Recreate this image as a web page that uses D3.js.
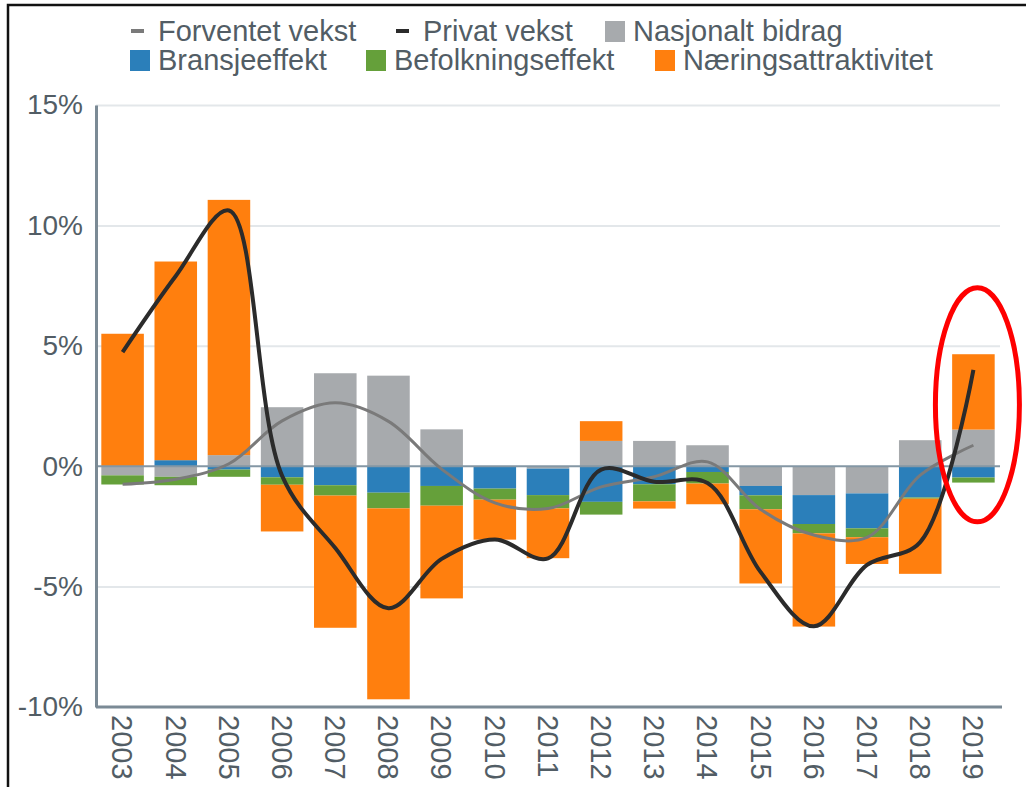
<!DOCTYPE html>
<html>
<head>
<meta charset="utf-8">
<script src="https://cdn.jsdelivr.net/npm/d3@7"></script>
<style>
  html, body { margin: 0; padding: 0; background: #fff; }
  svg { display: block; font-family: "Liberation Sans", Arial, sans-serif; }
</style>
</head>
<body>
<svg width="1026" height="787"></svg>
<script>
// values, in percent
const years = ['2003', '2004', '2005', '2006', '2007', '2008', '2009', '2010', '2011',
  '2012', '2013', '2014', '2015', '2016', '2017', '2018', '2019'];
const nasjonaltBidrag = [-0.38, -0.44, 0.46, 2.45, 3.86, 3.76, 1.53, 0, -0.1,
  1.05, 1.05, 0.87, -0.82, -1.2, -1.13, 1.08, 1.52];
const bransjeeffekt = [0, 0.25, -0.14, -0.46, -0.79, -1.1, -0.82, -0.93, -1.1,
  -1.48, -0.75, -0.24, -0.39, -1.2, -1.45, -1.3, -0.47];
const befolkningseffekt = [-0.38, -0.35, -0.3, -0.31, -0.43, -0.65, -0.82, -0.46, -0.55,
  -0.53, -0.71, -0.48, -0.58, -0.39, -0.37, -0.05, -0.21];
const naeringsattraktivitet = [5.5, 8.25, 10.6, -1.94, -5.49, -7.93, -3.85, -1.66, -2.07,
  0.82, -0.3, -0.86, -3.08, -3.87, -1.11, -3.12, 3.13];
const privatVekst = [4.74, 7.9, 10.62, -0.4, -3.4, -5.9, -3.85, -3.04, -3.83,
  -0.14, -0.65, -0.7, -4.4, -6.65, -4.1, -3.15, 4.0];
const forventetVekst = [-0.75, -0.54, 0.1, 1.88, 2.63, 1.86, -0.12, -1.52, -1.76,
  -0.86, -0.44, 0.18, -1.8, -2.86, -2.96, -0.37, 0.87];
const yTicks = [-10, -5, 0, 5, 10, 15];

const seriesKeys = ['nasjonalt', 'bransje', 'befolkning', 'naering'];
const colors = {
  nasjonalt: '#a7aaad',
  bransje: '#2b7fba',
  befolkning: '#65a03a',
  naering: '#ff7f0e',
};
const textColor = '#525d65';

const rows = years.map((yr, i) => ({
  year: yr,
  nasjonalt: nasjonaltBidrag[i],
  bransje: bransjeeffekt[i],
  befolkning: befolkningseffekt[i],
  naering: naeringsattraktivitet[i],
}));

const svg = d3.select('svg');

// plot area
const plotLeft = 96, plotRight = 1000, plotTop = 105, plotBottom = 707;

const x = d3.scaleBand()
  .domain(years)
  .range([plotLeft, plotRight])
  .paddingInner(0.2)
  .paddingOuter(0.1);
const bw = x.bandwidth();

const y = d3.scaleLinear()
  .domain([-10, 15])
  .range([plotBottom, plotTop]);

// gridlines
const grid = svg.append('g')
  .attr('transform', `translate(${plotLeft},0)`)
  .call(d3.axisLeft(y).tickValues(yTicks.filter(t => t !== 0 && t !== -10))
    .tickSize(-(plotRight - plotLeft)).tickFormat(''));
grid.select('.domain').remove();
grid.selectAll('line').attr('stroke', '#e3e7ea').attr('stroke-width', 2);

// stacked bars
const stacked = d3.stack().keys(seriesKeys).offset(d3.stackOffsetDiverging)(rows);

svg.append('g').selectAll('g')
  .data(stacked)
  .join('g')
  .attr('fill', s => colors[s.key])
  .selectAll('rect')
  .data(s => s)
  .join('rect')
  .attr('x', d => x(d.data.year))
  .attr('y', d => y(Math.max(d[0], d[1])))
  .attr('height', d => Math.abs(y(d[0]) - y(d[1])))
  .attr('width', bw);

// zero line
svg.append('line')
  .attr('x1', plotLeft).attr('x2', plotRight)
  .attr('y1', y(0)).attr('y2', y(0))
  .attr('stroke', '#8497a5')
  .attr('stroke-width', 2);

// smoothed lines
const line = d3.line()
  .x((d, i) => x(years[i]) + bw / 2)
  .y(d => y(d))
  .curve(d3.curveCatmullRom);

svg.append('path')
  .datum(forventetVekst)
  .attr('d', line)
  .attr('fill', 'none')
  .attr('stroke', '#7a7a7a')
  .attr('stroke-width', 3);

svg.append('path')
  .datum(privatVekst)
  .attr('d', line)
  .attr('fill', 'none')
  .attr('stroke', '#2b2b2b')
  .attr('stroke-width', 4);

// y axis
const yAxis = svg.append('g')
  .attr('transform', `translate(${plotLeft},0)`)
  .call(d3.axisLeft(y).tickValues(yTicks).tickFormat(d => d + '%')
    .tickSize(0).tickPadding(13));
yAxis.select('.domain').attr('stroke', '#7b8a95').attr('stroke-width', 3);
yAxis.selectAll('text')
  .attr('fill', textColor)
  .style('font-size', '28px')
  .style('font-family', '"Liberation Sans", Arial, sans-serif');

// x axis
const xAxis = svg.append('g')
  .attr('transform', `translate(0,${plotBottom})`)
  .call(d3.axisBottom(x).tickSize(0).tickSizeOuter(0));
xAxis.select('.domain')
  .attr('d', `M${plotLeft},0H${plotRight + 2}`)
  .attr('stroke', '#7b8a95').attr('stroke-width', 3);
xAxis.selectAll('text')
  .attr('transform', 'rotate(90)')
  .attr('text-anchor', 'start')
  .attr('x', 8)
  .attr('y', 0)
  .attr('dy', '0.35em')
  .attr('fill', textColor)
  .style('font-size', '29px')
  .style('font-family', '"Liberation Sans", Arial, sans-serif');

// legend
const legendItems = [
  {label: 'Forventet vekst', color: '#7a7a7a', type: 'line', lx: 131, ly: 31},
  {label: 'Privat vekst', color: '#2b2b2b', type: 'line', lx: 396, ly: 31},
  {label: 'Nasjonalt bidrag', color: colors.nasjonalt, type: 'rect', lx: 605, ly: 31},
  {label: 'Bransjeeffekt', color: colors.bransje, type: 'rect', lx: 130, ly: 60},
  {label: 'Befolkningseffekt', color: colors.befolkning, type: 'rect', lx: 366, ly: 60},
  {label: 'Næringsattraktivitet', color: colors.naering, type: 'rect', lx: 655, ly: 60},
];

const legend = svg.append('g')
  .selectAll('g')
  .data(legendItems)
  .join('g')
  .attr('transform', d => `translate(${d.lx},${d.ly})`);

legend.filter(d => d.type === 'line').append('rect')
  .attr('x', 0).attr('y', -2).attr('width', 13).attr('height', 4)
  .attr('fill', d => d.color);

legend.filter(d => d.type === 'rect').append('rect')
  .attr('x', 0).attr('y', -10).attr('width', 20).attr('height', 21)
  .attr('fill', d => d.color);

legend.append('text')
  .attr('x', d => d.type === 'line' ? 27 : 28)
  .attr('y', 0)
  .attr('dy', '0.36em')
  .attr('fill', textColor)
  .style('font-size', '29px')
  .text(d => d.label);

// red highlight round the last year
svg.append('ellipse')
  .attr('cx', x('2019') + bw / 2 + 4)
  .attr('cy', y(2.55))
  .attr('rx', 42)
  .attr('ry', 117)
  .attr('fill', 'none')
  .attr('stroke', '#ff0000')
  .attr('stroke-width', 5);

// picture frame (left and top edges)
svg.append('path')
  .attr('d', 'M8,787V5H1026')
  .attr('fill', 'none')
  .attr('stroke', '#111')
  .attr('stroke-width', 2.5);
</script>
</body>
</html>
